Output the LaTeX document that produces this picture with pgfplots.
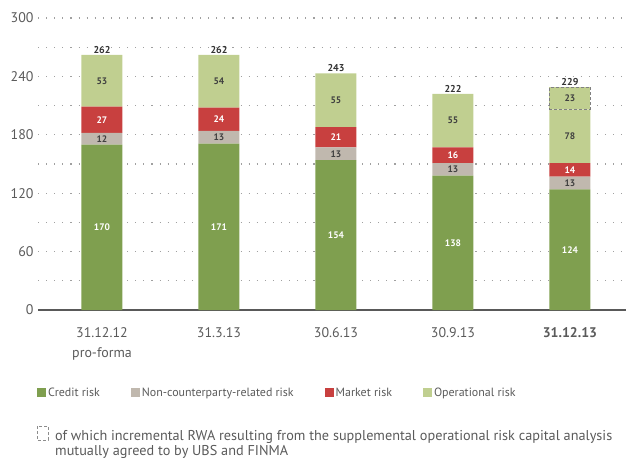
\documentclass[border=0pt]{standalone}
\usepackage{fontspec}
\setmainfont{PT Sans}
\usepackage{pgfplots}
\usepackage{pgfplotstable}
\pgfplotsset{compat=1.18}
\definecolor{credit}{HTML}{7F9F4F}
\definecolor{noncp}{HTML}{C0B8AE}
\definecolor{market}{HTML}{C8403F}
\definecolor{oper}{HTML}{C0CF90}
\definecolor{txt}{HTML}{5A5A5A}
\definecolor{gridc}{HTML}{A0A0A0}

\pgfplotstableread{
x credit noncp market oper incr oplab total
0 170 12 27 53 0 53 262
1 171 13 24 54 0 54 262
2 154 13 21 55 0 55 243
3 138 13 16 55 0 55 222
4 124 13 14 55 23 78 229
}\rwadata

\pgfplotsset{
  seglab/.style={nodes near coords, point meta=explicit,
    every node near coord/.append style={anchor=center,
      font=\fontsize{9.5}{10}\selectfont\bfseries, text=#1, inner sep=0pt}},
  common/.style={at={(0,0)}, anchor=south west, scale only axis,
    width=588bp, height=292bp, xmin=-0.547, xmax=4.479, ymin=0, ymax=300,
    bar width=41bp, clip=false, /pgf/number format/assume math mode=true},
}

\begin{document}
\begin{tikzpicture}
\useasboundingbox (-38bp,-162bp) rectangle (588bp,310bp);
\begin{axis}[common, ybar stacked,
  axis x line*=bottom, axis y line*=left,
  y axis line style={draw=none},
  x axis line style={draw=black!65, line width=2.2bp, -},
  tick style={draw=none},
  ytick={0,60,...,300}, minor ytick={30,90,...,270},
  ymajorgrids, yminorgrids,
  major grid style={draw=gridc, line width=1.1bp, dash pattern=on 1.1bp off 7bp},
  minor grid style={draw=gridc, line width=1.1bp, dash pattern=on 1.1bp off 7bp},
  yticklabel style={font=\fontsize{14}{16}\selectfont, text=txt, xshift=-1bp},
  xtick={0,1,2,3,4},
  xticklabels={31.12.12\\pro-forma, 31.3.13, 30.6.13, 30.9.13, \textbf{31.12.13}},
  xticklabel style={font=\fontsize{14}{20}\selectfont, text=txt, align=center, yshift=-14bp},
  legend columns=4,
  legend cell align=left,
  legend style={at={(axis description cs:-0.0017,-0.2842)}, anchor=west, draw=none,
    fill=none, inner sep=0pt, font=\fontsize{12}{14}\selectfont, text=txt,
    /tikz/every even column/.append style={column sep=29bp}},
  legend image code/.code={\fill[#1] (0bp,-4.5bp) rectangle (9bp,4.5bp);},
]
\addplot[fill=credit, draw=none, seglab=white] table[x=x, y=credit, meta=credit] {\rwadata};
\addlegendentry{Credit risk}
\addplot[fill=noncp, draw=none, seglab=black!75] table[x=x, y=noncp, meta=noncp] {\rwadata};
\addlegendentry{Non-counterparty-related risk}
\addplot[fill=market, draw=none, seglab=white] table[x=x, y=market, meta=market] {\rwadata};
\addlegendentry{Market risk}
\addplot[fill=oper, draw=none, seglab=black!75] table[x=x, y=oper, meta=oplab] {\rwadata};
\addlegendentry{Operational risk}
\addplot[fill=oper, draw=none] table[x=x, y=incr] {\rwadata};
\end{axis}
\begin{axis}[common, ybar stacked, hide axis]
\addplot[draw=none, fill=none] coordinates {(4,206)};
\addplot[draw=black!50, line width=1bp, dash pattern=on 3bp off 2bp, fill=none,
  seglab=black!75] coordinates {(4,23) [23]};
\end{axis}
\begin{axis}[common, ybar, hide axis]
\addplot[draw=none, fill=none, nodes near coords, point meta=explicit,
  every node near coord/.append style={anchor=south, font=\fontsize{10}{11}\selectfont\bfseries, text=black!80, inner sep=1.5bp}]
  table[x=x, y=total, meta=total] {\rwadata};
\end{axis}
\draw[draw=black!45, line width=0.9bp, dash pattern=on 3bp off 2bp] (-1bp,-116bp) rectangle (10bp,-130bp);
\node[anchor=north west, align=left, inner sep=0pt, text=txt, font=\fontsize{14.3}{15.5}\selectfont]
  at (17bp,-120bp) {of which incremental RWA resulting from the supplemental operational risk capital analysis\\mutually agreed to by UBS and FINMA};
\end{tikzpicture}
\end{document}
